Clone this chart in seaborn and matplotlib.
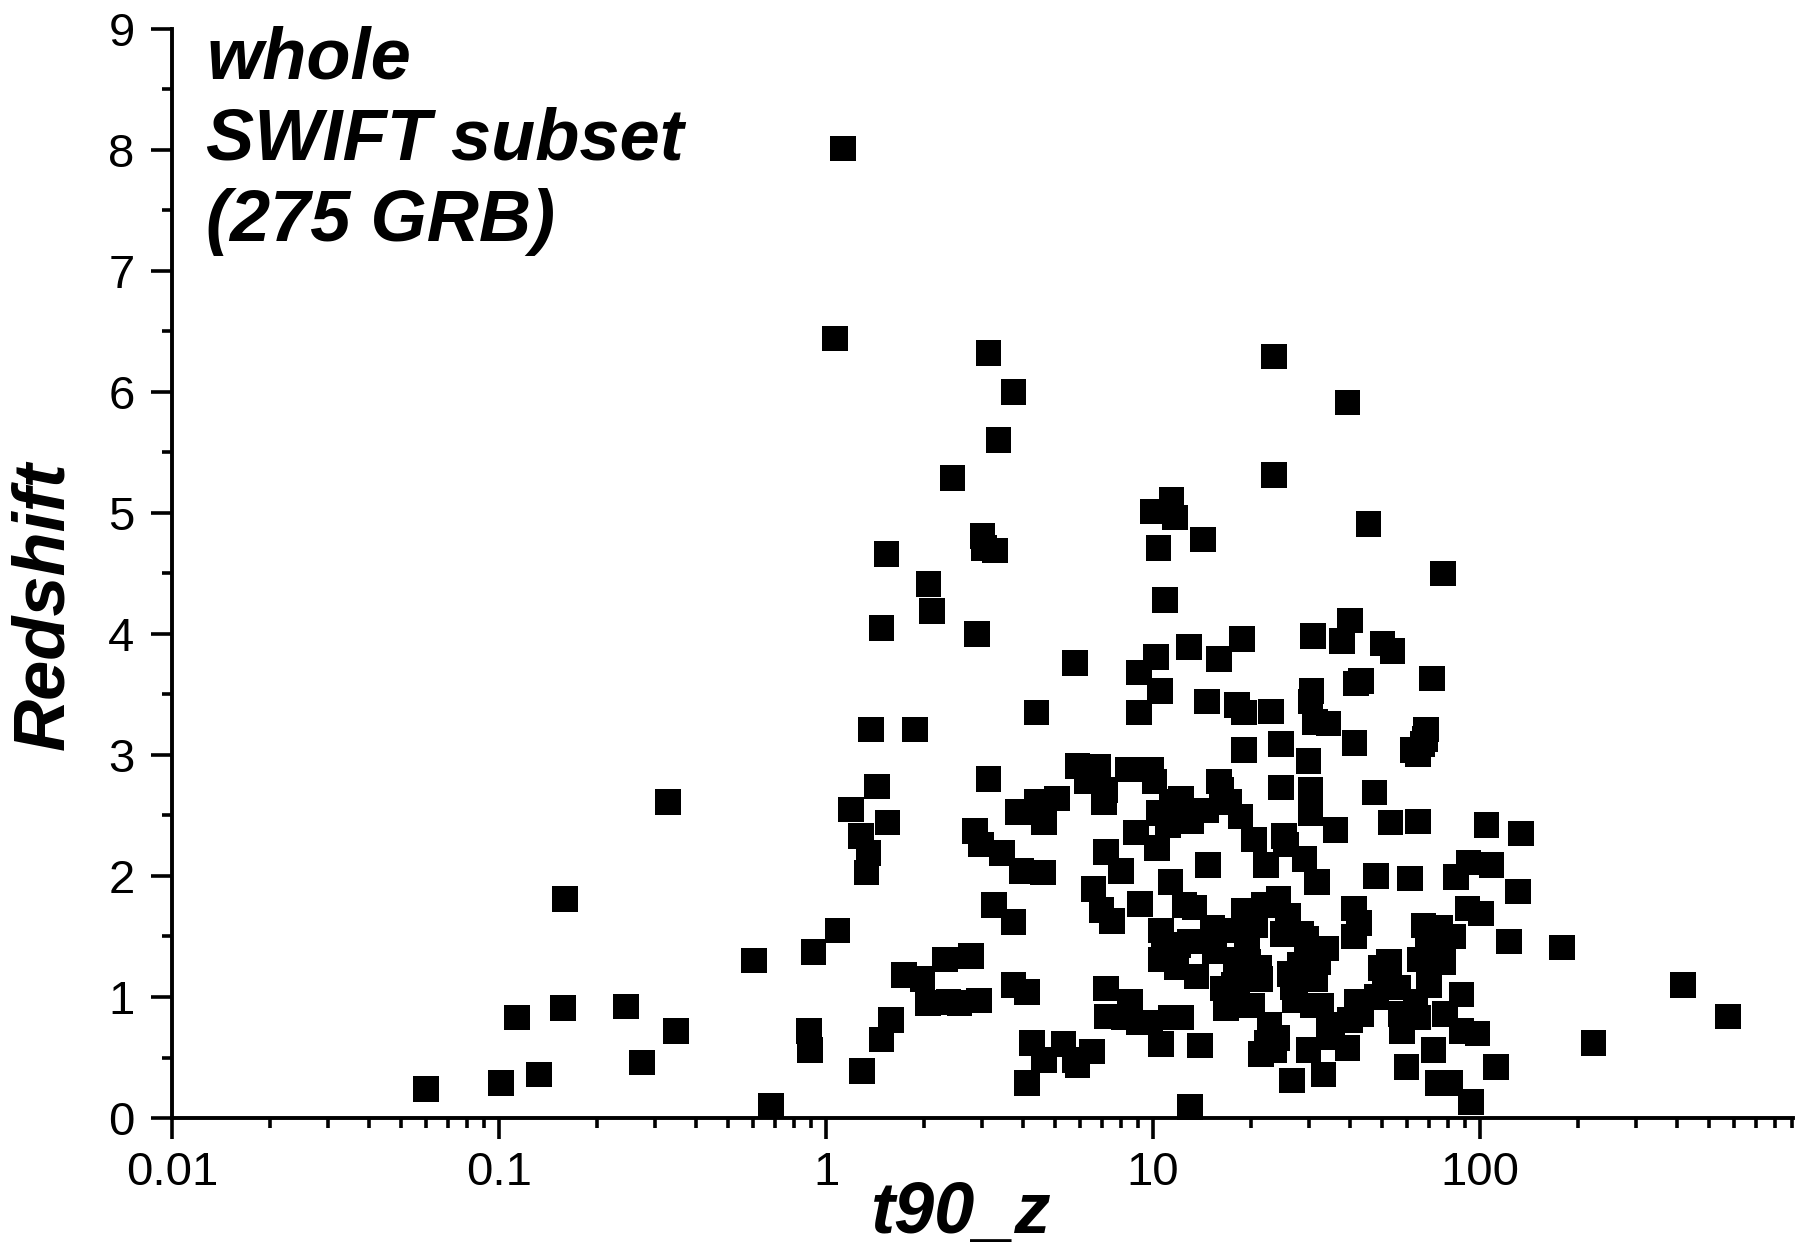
import matplotlib
matplotlib.use("Agg")
import matplotlib.pyplot as plt
import seaborn as sns
import pandas as pd
from matplotlib.ticker import LogLocator, FixedLocator, FuncFormatter, MultipleLocator

# ---- data ----
t90 = [
    0.0597, 0.1016, 0.1137, 0.1325, 0.157, 0.159, 0.2445, 0.2735, 0.329, 0.348,
    0.602, 0.68, 0.887, 0.893, 0.915, 1.066, 1.128, 1.084, 1.19, 1.28,
    1.29, 1.33, 1.35, 1.37, 1.43, 1.48, 1.53, 1.54, 1.48, 1.58,
    1.73, 1.87, 1.97, 2.05, 2.06, 2.11, 2.31, 2.37, 2.44, 2.56,
    2.78, 2.85, 2.89, 2.94, 2.98, 3.01, 3.04, 3.14, 3.14, 3.26,
    3.29, 3.37, 3.45, 3.74, 3.74, 3.74, 3.86, 4.12, 4.12, 3.96,
    4.26, 4.40, 4.40, 4.61, 4.65, 4.65, 5.08, 5.33, 5.78, 5.88,
    5.78, 5.88, 6.27, 6.52, 6.58, 6.79, 6.96, 7.07, 7.19, 7.24,
    7.12, 7.19, 7.48, 8.17, 8.36, 8.51, 9.06, 9.13, 9.06, 9.06,
    8.86, 9.9, 10.0, 10.2, 10.4, 10.1, 10.4, 10.3, 10.5, 10.6,
    10.6, 10.6, 10.8, 10.9, 11.1, 11.3, 11.3, 11.4, 11.4, 11.7,
    11.8, 11.9, 12.2, 12.2, 12.5, 12.9, 13.0, 13.0, 13.1, 13.4,
    13.9, 14.2, 14.6, 14.7, 14.5, 15.4, 15.9, 15.9, 16.2, 16.4,
    17.1, 17.7, 17.9, 17.5, 18.1, 18.1, 18.7, 19.0, 18.5, 19.0,
    19.4, 19.6, 20.4, 20.6, 21.1, 21.3, 21.4, 21.8, 22.2, 22.3,
    22.7, 23.0, 23.4, 23.4, 23.4, 24.2, 24.6, 24.6, 25.2, 25.0,
    25.5, 26.2, 26.6, 26.8, 27.2, 28.3, 29.1, 29.5, 29.9, 30.3,
    30.3, 29.9, 30.5, 30.3, 30.8, 30.8, 31.3, 31.3, 31.8, 32.0,
    32.8, 33.2, 33.8, 34.4, 35.3, 36.2, 37.8, 39.3, 40.0, 40.0,
    39.3, 41.1, 41.1, 41.3, 41.7, 42.6, 43.2, 43.2, 45.6, 47.6,
    48.0, 49.6, 50.4, 51.3, 52.7, 54.0, 53.2, 56.3, 57.2, 57.7,
    59.6, 61.0, 62.5, 63.5, 64.6, 64.6, 65.6, 64.6, 66.7, 67.2,
    68.0, 68.5, 69.1, 69.7, 70.8, 71.3, 72.0, 74.4, 75.6, 77.2,
    78.0, 81.3, 82.6, 84.3, 87.8, 87.8, 91.7, 92.3, 93.8, 98.4,
    100.7, 104.8, 108.3, 111.9, 122.6, 130.5, 133.5, 177.8, 222.3, 417.0,
    574.0, 9.8, 13.6, 16.7, 20.1, 23.9, 25.9, 28.1, 34.4, 42.0,
    48.3, 77.2, 15.2, 19.0, 7.97,
]
redshift = [
    0.24, 0.29, 0.83, 0.36, 0.91, 1.81, 0.92, 0.46, 2.61, 0.72,
    1.30, 0.10, 0.72, 0.56, 1.37, 6.44, 8.01, 1.55, 2.55, 2.33,
    0.39, 2.03, 2.19, 3.21, 2.74, 4.05, 4.66, 2.44, 0.65, 0.81,
    1.18, 3.21, 1.15, 0.95, 4.41, 4.19, 1.31, 0.96, 5.29, 0.95,
    1.34, 2.37, 4.00, 0.97, 2.26, 4.81, 4.71, 6.32, 2.80, 1.76,
    4.69, 5.60, 2.19, 1.62, 6.00, 1.10, 2.53, 1.04, 0.29, 2.04,
    0.62, 3.35, 2.61, 2.03, 0.48, 2.44, 2.64, 0.61, 0.48, 2.91,
    3.76, 0.44, 2.78, 0.55, 1.89, 2.90, 1.72, 2.61, 1.07, 0.84,
    2.71, 2.20, 1.63, 0.83, 2.88, 0.96, 0.79, 1.77, 3.68, 3.35,
    2.36, 2.88, 5.01, 3.81, 4.71, 2.78, 2.52, 2.23, 3.53, 1.55,
    0.61, 1.31, 1.41, 4.28, 2.42, 0.83, 1.95, 5.11, 2.61, 4.96,
    1.25, 1.43, 0.83, 2.64, 1.76, 3.89, 0.09, 1.46, 2.45, 1.74,
    0.60, 4.78, 3.44, 2.09, 2.54, 1.38, 3.79, 2.78, 2.71, 1.07,
    2.61, 1.10, 1.31, 1.55, 3.41, 1.05, 3.96, 3.35, 2.49, 3.04,
    1.41, 1.29, 2.30, 1.59, 1.24, 1.15, 0.53, 1.76, 2.09, 0.62,
    0.77, 3.36, 6.29, 5.31, 0.56, 1.81, 2.73, 3.09, 2.33, 1.52,
    2.26, 1.19, 0.31, 1.08, 0.97, 1.52, 2.14, 1.48, 2.95, 2.71,
    2.52, 0.56, 3.53, 3.44, 3.98, 0.93, 3.27, 1.15, 1.95, 1.29,
    0.93, 0.36, 1.40, 3.26, 0.67, 2.38, 3.94, 0.58, 0.81, 4.11,
    5.91, 1.73, 1.50, 3.10, 3.59, 1.61, 3.61, 0.86, 4.91, 2.69,
    2.00, 1.24, 3.92, 1.12, 1.29, 3.86, 2.44, 1.08, 0.86, 0.72,
    0.42, 1.98, 3.04, 0.96, 3.01, 0.83, 1.31, 2.45, 3.09, 1.59,
    3.13, 3.21, 1.46, 1.10, 1.52, 3.63, 0.56, 0.29, 1.57, 4.50,
    0.86, 0.29, 1.50, 1.99, 1.02, 0.72, 1.73, 2.11, 0.13, 0.70,
    1.69, 2.42, 2.09, 0.42, 1.46, 1.87, 2.35, 1.41, 0.62, 1.10,
    0.84, 0.79, 1.17, 0.91, 0.93, 0.66, 1.67, 1.27, 0.77, 0.96,
    1.00, 1.29, 1.57, 1.71, 2.04,
]
x_major_ticks = [0.01, 0.1, 1, 10, 100]
y_major_ticks = [0, 1, 2, 3, 4, 5, 6, 7, 8, 9]
annotation_lines = ["whole", "SWIFT subset", "(275 GRB)"]
x_label = "t90_z"
y_label = "Redshift"

df = pd.DataFrame({"t90_z": t90, "Redshift": redshift})

# ---- style ----
sns.set_style("ticks")
plt.rcParams["font.family"] = ["Liberation Sans", "DejaVu Sans"]
plt.rcParams["axes.linewidth"] = 2.8
plt.rcParams["axes.edgecolor"] = "black"
plt.rcParams["text.color"] = "black"
plt.rcParams["axes.labelcolor"] = "black"
plt.rcParams["xtick.color"] = "black"
plt.rcParams["ytick.color"] = "black"

fig = plt.figure(figsize=(17.96, 12.46), dpi=100)
ax = fig.add_axes([0.0958, 0.1027, 0.9025, 0.8743])

sns.scatterplot(data=df, x="t90_z", y="Redshift", ax=ax, marker="s",
                s=340, color="black", linewidth=0, edgecolor="none",
                clip_on=False, legend=False)

ax.set_xscale("log")
ax.set_xlim(0.01, 906)
ax.set_ylim(0, 9)

ax.xaxis.set_major_locator(FixedLocator(x_major_ticks))
ax.xaxis.set_major_formatter(FuncFormatter(lambda v, p: "%g" % v))
ax.xaxis.set_minor_locator(LogLocator(base=10, subs=[2, 3, 4, 5, 6, 7, 8, 9], numticks=20))
ax.yaxis.set_major_locator(FixedLocator(y_major_ticks))
ax.yaxis.set_minor_locator(MultipleLocator(0.5))

sns.despine(ax=ax, top=True, right=True)
for sp in ax.spines.values():
    sp.set_color("black")

ax.tick_params(axis="both", which="major", direction="out", length=15, width=2.6,
               labelsize=34, color="black", labelcolor="black")
ax.tick_params(axis="both", which="minor", direction="out", length=7.5, width=2.6,
               color="black")
ax.tick_params(axis="x", which="major", pad=9)
ax.tick_params(axis="y", which="major", pad=12)

ax.set_xlabel(x_label, fontsize=52, fontweight="bold", fontstyle="italic", color="black")
ax.set_ylabel(y_label, fontsize=52, fontweight="bold", fontstyle="italic", color="black")
ax.xaxis.set_label_coords(0.487, -0.057)
ax.yaxis.set_label_coords(-0.058, 0.47)

ax.text(0.021, 1.003, "\n".join(annotation_lines), transform=ax.transAxes,
        ha="left", va="top", fontsize=52, fontweight="bold", fontstyle="italic",
        linespacing=1.25, color="black")

fig.savefig("out.png", dpi=100, facecolor="white")
